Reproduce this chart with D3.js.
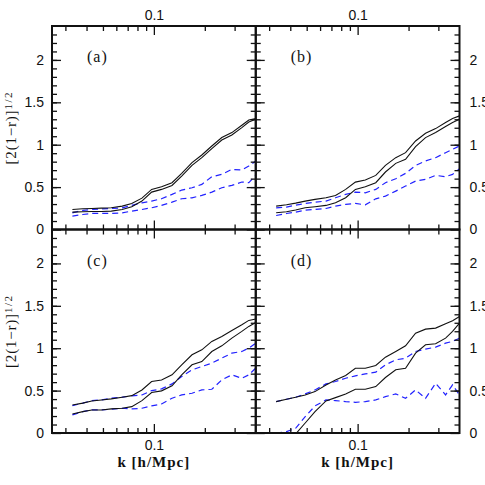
<!DOCTYPE html>
<html>
<head>
<meta charset="utf-8">
<script src="https://cdn.jsdelivr.net/npm/d3@7"></script>
<style>
  body { margin: 0; background: #fff; }
  svg { display: block; }
</style>
</head>
<body>
<svg id="chart" width="485" height="485"></svg>
<script>
// k grid shared by all curves (h/Mpc)
const kVals = [0.033, 0.038, 0.043, 0.049, 0.056, 0.065, 0.074, 0.085, 0.097, 0.111,
               0.128, 0.146, 0.168, 0.192, 0.22, 0.252, 0.289, 0.331, 0.364, 0.4];

// panel (a)
const aSolid1 = [0.236,0.244,0.248,0.252,0.256,0.276,0.307,0.370,0.473,0.504,0.552,0.662,0.788,0.879,0.985,1.084,1.143,1.229,1.292,1.308];
const aSolid2 = [0.205,0.209,0.213,0.213,0.217,0.236,0.268,0.335,0.441,0.473,0.520,0.630,0.756,0.847,0.954,1.056,1.115,1.202,1.268,1.300];
const aDash1  = [0.197,0.225,0.236,0.244,0.248,0.256,0.284,0.315,0.335,0.363,0.414,0.465,0.492,0.532,0.623,0.650,0.709,0.701,0.748,0.807];
const aDash2  = [0.158,0.177,0.189,0.189,0.189,0.197,0.217,0.236,0.256,0.284,0.323,0.363,0.374,0.402,0.441,0.492,0.520,0.560,0.552,0.638];
// panel (b)
const bSolid1 = [0.276,0.291,0.311,0.335,0.355,0.374,0.402,0.473,0.559,0.583,0.638,0.756,0.847,0.906,1.044,1.135,1.190,1.261,1.308,1.340];
const bSolid2 = [0.197,0.209,0.229,0.256,0.268,0.284,0.315,0.374,0.473,0.504,0.552,0.678,0.780,0.828,0.977,1.084,1.143,1.214,1.261,1.300];
const bDash1  = [0.256,0.264,0.287,0.307,0.323,0.335,0.374,0.414,0.441,0.433,0.473,0.552,0.599,0.662,0.756,0.808,0.847,0.906,0.946,0.985];
const bDash2  = [0.165,0.189,0.205,0.229,0.236,0.248,0.276,0.296,0.307,0.291,0.362,0.394,0.453,0.512,0.571,0.591,0.638,0.623,0.650,0.717];
// panel (c)
const cSolid1 = [0.331,0.352,0.378,0.390,0.402,0.422,0.441,0.508,0.607,0.626,0.686,0.804,0.922,0.981,1.080,1.139,1.209,1.276,1.328,1.344];
const cSolid2 = [0.225,0.252,0.272,0.272,0.284,0.292,0.311,0.382,0.477,0.497,0.556,0.686,0.804,0.843,0.961,1.028,1.119,1.198,1.257,1.304];
const cDash1  = [0.323,0.352,0.382,0.390,0.410,0.422,0.437,0.449,0.500,0.520,0.579,0.666,0.745,0.784,0.824,0.883,0.942,0.962,1.001,1.060];
const cDash2  = [0.213,0.252,0.272,0.272,0.280,0.292,0.284,0.292,0.319,0.343,0.410,0.449,0.469,0.508,0.516,0.626,0.686,0.646,0.686,0.765];
// panel (d)
const dSolid1 = [0.370,0.398,0.421,0.449,0.488,0.567,0.626,0.678,0.764,0.764,0.796,0.894,0.961,1.028,1.178,1.225,1.237,1.289,1.324,1.375];
const dSolid2 = [-0.276,-0.146,-0.012,0.118,0.252,0.378,0.417,0.461,0.516,0.516,0.548,0.654,0.745,0.764,0.942,1.040,1.052,1.119,1.198,1.296];
const dDash1  = [0.370,0.398,0.421,0.461,0.508,0.579,0.607,0.646,0.674,0.697,0.717,0.804,0.863,0.882,0.961,0.989,1.013,1.060,1.080,1.119];
const dDash2  = [0.000,0.016,0.055,0.193,0.319,0.390,0.382,0.370,0.362,0.370,0.390,0.429,0.461,0.409,0.508,0.409,0.587,0.449,0.567,0.449];

const panelLabels = ["(a)", "(b)", "(c)", "(d)"];
const xMajorTicks = [0.1];
const xMinorTicks = [0.03, 0.04, 0.05, 0.06, 0.07, 0.08, 0.09, 0.2, 0.3];
const yMajorTicks = [0, 0.5, 1, 1.5, 2];
const yMinorTicks = d3.range(1, 24).map(i => i / 10);

const left0 = 52, top0 = 26;
const pw = 203.75, ph = 203.5;

const svg = d3.select("#chart");

const x = d3.scaleLog().domain([0.025, 0.4]).range([0, pw]);
const y = d3.scaleLinear().domain([0, 2.4]).range([ph, 0]);

const line = d3.line()
  .x(d => x(d.k))
  .y(d => y(d.v));

const toPts = vals => vals.map((v, i) => ({k: kVals[i], v: v}));

const panels = [
  {col: 0, row: 0, solid: [aSolid1, aSolid2], dash: [aDash1, aDash2]},
  {col: 1, row: 0, solid: [bSolid1, bSolid2], dash: [bDash1, bDash2]},
  {col: 0, row: 1, solid: [cSolid1, cSolid2], dash: [cDash1, cDash2]},
  {col: 1, row: 1, solid: [dSolid1, dSolid2], dash: [dDash1, dDash2]}
];

const sansFont = "'Liberation Sans', Arial, sans-serif";
const serifFont = "'Liberation Serif', 'Times New Roman', serif";

function styleAxis(g) {
  g.select(".domain").remove();
  g.selectAll(".tick line").attr("stroke", "#111").attr("stroke-width", 1.3);
  g.selectAll(".tick text").attr("fill", "#111");
  g.attr("font-family", sansFont).attr("font-size", 14);
}

panels.forEach((p, i) => {
  const g = svg.append("g")
    .attr("transform", `translate(${left0 + p.col * pw},${top0 + p.row * ph})`);

  svg.append("clipPath").attr("id", "clip" + i)
    .append("rect").attr("width", pw).attr("height", ph);

  const plot = g.append("g").attr("clip-path", `url(#clip${i})`);

  p.dash.forEach(s => {
    plot.append("path")
      .datum(toPts(s))
      .attr("fill", "none")
      .attr("stroke", "#2222ff")
      .attr("stroke-width", 1.2)
      .attr("stroke-dasharray", "6,4")
      .attr("d", line);
  });
  p.solid.forEach(s => {
    plot.append("path")
      .datum(toPts(s))
      .attr("fill", "none")
      .attr("stroke", "#111")
      .attr("stroke-width", 1.1)
      .attr("d", line);
  });

  const fmt = d => String(d);
  const none = () => "";

  // x axes, bottom and top, ticks pointing in
  g.append("g").attr("transform", `translate(0,${ph})`)
    .call(d3.axisBottom(x).tickValues(xMajorTicks).tickSize(-9).tickSizeOuter(0)
      .tickPadding(7).tickFormat(p.row === 1 ? fmt : none))
    .call(styleAxis);
  g.append("g").attr("transform", `translate(0,${ph})`)
    .call(d3.axisBottom(x).tickValues(xMinorTicks).tickSize(-5).tickSizeOuter(0).tickFormat(none))
    .call(styleAxis);
  g.append("g")
    .call(d3.axisTop(x).tickValues(xMajorTicks).tickSize(-9).tickSizeOuter(0)
      .tickPadding(6).tickFormat(p.row === 0 ? fmt : none))
    .call(styleAxis);
  g.append("g")
    .call(d3.axisTop(x).tickValues(xMinorTicks).tickSize(-5).tickSizeOuter(0).tickFormat(none))
    .call(styleAxis);

  // y axes, left and right
  g.append("g")
    .call(d3.axisLeft(y).tickValues(yMajorTicks).tickSize(-9).tickSizeOuter(0)
      .tickPadding(8).tickFormat(p.col === 0 ? fmt : none))
    .call(styleAxis);
  g.append("g")
    .call(d3.axisLeft(y).tickValues(yMinorTicks).tickSize(-5).tickSizeOuter(0).tickFormat(none))
    .call(styleAxis);
  g.append("g").attr("transform", `translate(${pw},0)`)
    .call(d3.axisRight(y).tickValues(yMajorTicks).tickSize(-9).tickSizeOuter(0)
      .tickPadding(10).tickFormat(p.col === 1 ? fmt : none))
    .call(styleAxis);
  g.append("g").attr("transform", `translate(${pw},0)`)
    .call(d3.axisRight(y).tickValues(yMinorTicks).tickSize(-5).tickSizeOuter(0).tickFormat(none))
    .call(styleAxis);

  g.append("rect")
    .attr("width", pw).attr("height", ph)
    .attr("fill", "none").attr("stroke", "#111").attr("stroke-width", 2);

  g.append("text")
    .attr("x", 35).attr("y", y(1.97))
    .attr("font-family", serifFont).attr("font-size", 16)
    .attr("letter-spacing", 1)
    .attr("fill", "#111")
    .text(panelLabels[i]);

  if (p.col === 0) {
    const yl = svg.append("text")
      .attr("transform", `translate(16,${top0 + p.row * ph + ph / 2}) rotate(-90)`)
      .attr("text-anchor", "middle")
      .attr("font-family", serifFont).attr("font-size", 15)
      .attr("letter-spacing", 0.8)
      .attr("fill", "#111");
    yl.append("tspan").text("[2(1\u2212r)]");
    yl.append("tspan").attr("dy", -4).attr("font-size", 11).attr("letter-spacing", 1.5).text("1/2");
  }
  if (p.row === 1) {
    svg.append("text")
      .attr("x", left0 + p.col * pw + pw / 2).attr("y", 467)
      .attr("text-anchor", "middle")
      .attr("font-family", serifFont).attr("font-size", 15)
      .attr("font-weight", "bold").attr("letter-spacing", 1)
      .attr("fill", "#111")
      .text("k [h/Mpc]");
  }
});
</script>
</body>
</html>
